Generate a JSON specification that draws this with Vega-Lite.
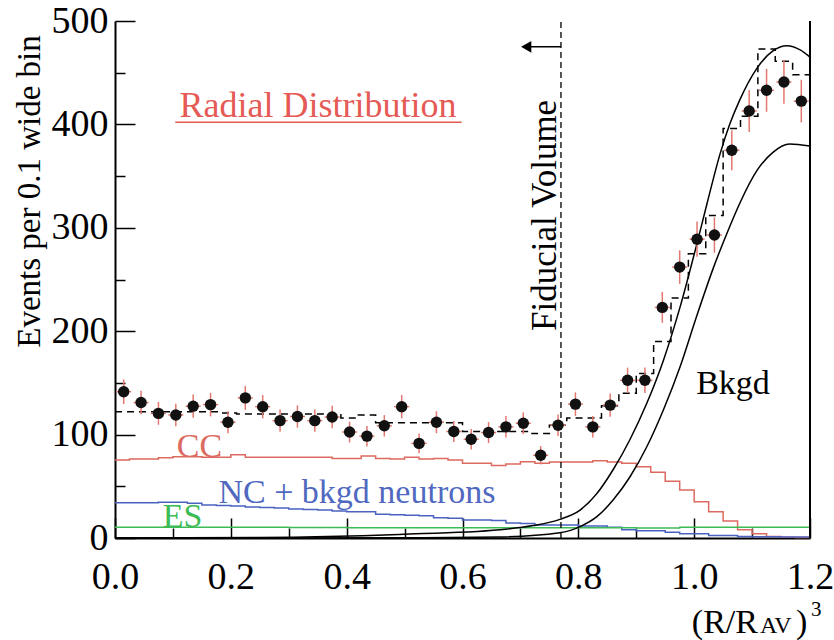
{
  "$schema": "https://vega.github.io/schema/vega-lite/v6.json",
  "autosize": "none",
  "width": 695,
  "height": 517,
  "padding": {"left": 115, "top": 21, "right": 24, "bottom": 102},
  "background": "white",
  "config": {
    "view": {"stroke": null},
    "font": "Liberation Serif",
    "text": {"font": "Liberation Serif"},
    "axis": {"labelFont": "Liberation Serif", "titleFont": "Liberation Serif", "labelColor": "black", "titleColor": "black", "grid": false, "domainColor": "black", "domainWidth": 2, "tickColor": "black", "tickWidth": 1.5, "titleFontWeight": "normal"}
  },
  "datasets": {
    "points": [
      {"x": 0.015, "n": 141.5, "lo": 129.6, "hi": 153.4, "xlo": 0.002, "xhi": 0.028},
      {"x": 0.045, "n": 131, "lo": 119.6, "hi": 142.4, "xlo": 0.032, "xhi": 0.058},
      {"x": 0.075, "n": 120.5, "lo": 109.5, "hi": 131.5, "xlo": 0.062, "xhi": 0.088},
      {"x": 0.105, "n": 119, "lo": 108.1, "hi": 129.9, "xlo": 0.092, "xhi": 0.118},
      {"x": 0.135, "n": 127.5, "lo": 116.2, "hi": 138.8, "xlo": 0.122, "xhi": 0.148},
      {"x": 0.165, "n": 129, "lo": 117.6, "hi": 140.4, "xlo": 0.152, "xhi": 0.178},
      {"x": 0.195, "n": 112, "lo": 101.4, "hi": 122.6, "xlo": 0.182, "xhi": 0.208},
      {"x": 0.225, "n": 135.5, "lo": 123.9, "hi": 147.1, "xlo": 0.212, "xhi": 0.238},
      {"x": 0.255, "n": 127, "lo": 115.7, "hi": 138.3, "xlo": 0.242, "xhi": 0.268},
      {"x": 0.285, "n": 113.5, "lo": 102.8, "hi": 124.2, "xlo": 0.272, "xhi": 0.298},
      {"x": 0.315, "n": 117.5, "lo": 106.7, "hi": 128.3, "xlo": 0.302, "xhi": 0.328},
      {"x": 0.345, "n": 113.5, "lo": 102.8, "hi": 124.2, "xlo": 0.332, "xhi": 0.358},
      {"x": 0.375, "n": 117, "lo": 106.2, "hi": 127.8, "xlo": 0.362, "xhi": 0.388},
      {"x": 0.405, "n": 102.5, "lo": 92.4, "hi": 112.6, "xlo": 0.392, "xhi": 0.418},
      {"x": 0.435, "n": 98.5, "lo": 88.6, "hi": 108.4, "xlo": 0.422, "xhi": 0.448},
      {"x": 0.465, "n": 108.5, "lo": 98.1, "hi": 118.9, "xlo": 0.452, "xhi": 0.478},
      {"x": 0.495, "n": 127, "lo": 115.7, "hi": 138.3, "xlo": 0.482, "xhi": 0.508},
      {"x": 0.525, "n": 91.5, "lo": 81.9, "hi": 101.1, "xlo": 0.512, "xhi": 0.538},
      {"x": 0.555, "n": 112, "lo": 101.4, "hi": 122.6, "xlo": 0.542, "xhi": 0.568},
      {"x": 0.585, "n": 103, "lo": 92.9, "hi": 113.1, "xlo": 0.572, "xhi": 0.598},
      {"x": 0.615, "n": 95.5, "lo": 85.7, "hi": 105.3, "xlo": 0.602, "xhi": 0.628},
      {"x": 0.645, "n": 102, "lo": 91.9, "hi": 112.1, "xlo": 0.632, "xhi": 0.658},
      {"x": 0.675, "n": 107.5, "lo": 97.1, "hi": 117.9, "xlo": 0.662, "xhi": 0.688},
      {"x": 0.705, "n": 111, "lo": 100.5, "hi": 121.5, "xlo": 0.692, "xhi": 0.718},
      {"x": 0.735, "n": 80, "lo": 71.1, "hi": 88.9, "xlo": 0.722, "xhi": 0.748},
      {"x": 0.765, "n": 109, "lo": 98.6, "hi": 119.4, "xlo": 0.752, "xhi": 0.778},
      {"x": 0.795, "n": 129.5, "lo": 118.1, "hi": 140.9, "xlo": 0.782, "xhi": 0.808},
      {"x": 0.825, "n": 107.5, "lo": 97.1, "hi": 117.9, "xlo": 0.812, "xhi": 0.838},
      {"x": 0.855, "n": 128.5, "lo": 117.2, "hi": 139.8, "xlo": 0.842, "xhi": 0.868},
      {"x": 0.885, "n": 152.5, "lo": 140.2, "hi": 164.8, "xlo": 0.872, "xhi": 0.898},
      {"x": 0.915, "n": 152.5, "lo": 140.2, "hi": 164.8, "xlo": 0.902, "xhi": 0.928},
      {"x": 0.945, "n": 223, "lo": 208.1, "hi": 237.9, "xlo": 0.932, "xhi": 0.958},
      {"x": 0.975, "n": 262, "lo": 245.8, "hi": 278.2, "xlo": 0.962, "xhi": 0.988},
      {"x": 1.005, "n": 289, "lo": 272, "hi": 306, "xlo": 0.992, "xhi": 1.018},
      {"x": 1.035, "n": 293, "lo": 275.9, "hi": 310.1, "xlo": 1.022, "xhi": 1.048},
      {"x": 1.065, "n": 375, "lo": 355.6, "hi": 394.4, "xlo": 1.052, "xhi": 1.078},
      {"x": 1.095, "n": 413, "lo": 392.7, "hi": 433.3, "xlo": 1.082, "xhi": 1.108},
      {"x": 1.125, "n": 433, "lo": 412.2, "hi": 453.8, "xlo": 1.112, "xhi": 1.138},
      {"x": 1.155, "n": 441, "lo": 420, "hi": 462, "xlo": 1.142, "xhi": 1.168},
      {"x": 1.185, "n": 422.5, "lo": 401.9, "hi": 443.1, "xlo": 1.172, "xhi": 1.198}
    ],
    "total": [
      {"x": 0.0, "v": 122}, {"x": 0.03, "v": 122}, {"x": 0.06, "v": 122}, {"x": 0.09, "v": 122},
      {"x": 0.12, "v": 122}, {"x": 0.15, "v": 122}, {"x": 0.18, "v": 121}, {"x": 0.21, "v": 120},
      {"x": 0.24, "v": 120}, {"x": 0.27, "v": 120}, {"x": 0.30, "v": 120}, {"x": 0.33, "v": 120},
      {"x": 0.36, "v": 120}, {"x": 0.39, "v": 116}, {"x": 0.42, "v": 119}, {"x": 0.45, "v": 111.5},
      {"x": 0.48, "v": 111.5}, {"x": 0.51, "v": 111.5}, {"x": 0.54, "v": 111.5}, {"x": 0.57, "v": 111.5},
      {"x": 0.60, "v": 103}, {"x": 0.63, "v": 103}, {"x": 0.66, "v": 103}, {"x": 0.69, "v": 103},
      {"x": 0.72, "v": 101}, {"x": 0.75, "v": 109}, {"x": 0.78, "v": 116}, {"x": 0.81, "v": 116},
      {"x": 0.84, "v": 128}, {"x": 0.87, "v": 140}, {"x": 0.90, "v": 159}, {"x": 0.93, "v": 190},
      {"x": 0.96, "v": 232}, {"x": 0.99, "v": 275}, {"x": 1.02, "v": 312}, {"x": 1.05, "v": 396},
      {"x": 1.08, "v": 408}, {"x": 1.11, "v": 473}, {"x": 1.14, "v": 461}, {"x": 1.17, "v": 448},
      {"x": 1.20, "v": 448}
    ],
    "cc": [
      {"x": 0.000, "v": 75.5}, {"x": 0.025, "v": 76.5}, {"x": 0.050, "v": 76.5}, {"x": 0.075, "v": 77.5},
      {"x": 0.100, "v": 78.5}, {"x": 0.125, "v": 78.5}, {"x": 0.150, "v": 78}, {"x": 0.175, "v": 78},
      {"x": 0.200, "v": 80.5}, {"x": 0.225, "v": 78}, {"x": 0.250, "v": 78}, {"x": 0.275, "v": 78},
      {"x": 0.300, "v": 78}, {"x": 0.325, "v": 78}, {"x": 0.350, "v": 78}, {"x": 0.375, "v": 77},
      {"x": 0.400, "v": 77}, {"x": 0.425, "v": 79.3}, {"x": 0.450, "v": 77}, {"x": 0.475, "v": 76.5},
      {"x": 0.500, "v": 78}, {"x": 0.525, "v": 76.3}, {"x": 0.550, "v": 77}, {"x": 0.575, "v": 75.5},
      {"x": 0.600, "v": 72.3}, {"x": 0.625, "v": 72.3}, {"x": 0.650, "v": 70}, {"x": 0.675, "v": 71.5},
      {"x": 0.700, "v": 73.7}, {"x": 0.725, "v": 72.3}, {"x": 0.750, "v": 73.4}, {"x": 0.775, "v": 73.5},
      {"x": 0.800, "v": 73.5}, {"x": 0.825, "v": 74.8}, {"x": 0.850, "v": 73.5}, {"x": 0.875, "v": 72.3},
      {"x": 0.900, "v": 69}, {"x": 0.925, "v": 63.5}, {"x": 0.950, "v": 55}, {"x": 0.975, "v": 46.5},
      {"x": 1.000, "v": 35}, {"x": 1.025, "v": 25.5}, {"x": 1.050, "v": 16.5}, {"x": 1.075, "v": 8},
      {"x": 1.100, "v": 4}, {"x": 1.125, "v": 1.5}, {"x": 1.150, "v": 0.7}, {"x": 1.175, "v": 0.5},
      {"x": 1.200, "v": 0.5}
    ],
    "nc": [
      {"x": 0.000, "v": 34}, {"x": 0.025, "v": 34}, {"x": 0.050, "v": 34}, {"x": 0.075, "v": 34.5},
      {"x": 0.100, "v": 34.5}, {"x": 0.125, "v": 33.5}, {"x": 0.150, "v": 32}, {"x": 0.175, "v": 31.5},
      {"x": 0.200, "v": 31}, {"x": 0.225, "v": 30}, {"x": 0.250, "v": 29.5}, {"x": 0.275, "v": 29},
      {"x": 0.300, "v": 28}, {"x": 0.325, "v": 27.5}, {"x": 0.350, "v": 27}, {"x": 0.375, "v": 26},
      {"x": 0.400, "v": 25.5}, {"x": 0.425, "v": 25.5}, {"x": 0.450, "v": 23}, {"x": 0.475, "v": 22.5},
      {"x": 0.500, "v": 22}, {"x": 0.525, "v": 21.5}, {"x": 0.550, "v": 19.5}, {"x": 0.575, "v": 19},
      {"x": 0.600, "v": 17.5}, {"x": 0.625, "v": 17.5}, {"x": 0.650, "v": 17}, {"x": 0.675, "v": 14.5},
      {"x": 0.700, "v": 14}, {"x": 0.725, "v": 12.5}, {"x": 0.750, "v": 12.5}, {"x": 0.775, "v": 12.5},
      {"x": 0.800, "v": 11.5}, {"x": 0.825, "v": 11.5}, {"x": 0.850, "v": 10.5}, {"x": 0.875, "v": 8},
      {"x": 0.900, "v": 7}, {"x": 0.925, "v": 7}, {"x": 0.950, "v": 5.5}, {"x": 0.975, "v": 4},
      {"x": 1.000, "v": 4}, {"x": 1.025, "v": 2.5}, {"x": 1.050, "v": 2.5}, {"x": 1.075, "v": 1.5},
      {"x": 1.100, "v": 1.3}, {"x": 1.125, "v": 1.2}, {"x": 1.150, "v": 1}, {"x": 1.175, "v": 1},
      {"x": 1.200, "v": 1}
    ],
    "es": [
      {"x": 0.000, "v": 10.3}, {"x": 0.025, "v": 10.3}, {"x": 0.050, "v": 10.3}, {"x": 0.075, "v": 10.3},
      {"x": 0.100, "v": 10.5}, {"x": 0.125, "v": 10.5}, {"x": 0.150, "v": 10.3}, {"x": 0.175, "v": 10.3},
      {"x": 0.200, "v": 10.3}, {"x": 0.225, "v": 10.5}, {"x": 0.250, "v": 10.3}, {"x": 0.275, "v": 10.3},
      {"x": 0.300, "v": 10.2}, {"x": 0.325, "v": 10.2}, {"x": 0.350, "v": 10.2}, {"x": 0.375, "v": 10.2},
      {"x": 0.400, "v": 10}, {"x": 0.425, "v": 10}, {"x": 0.450, "v": 10}, {"x": 0.475, "v": 10},
      {"x": 0.500, "v": 10}, {"x": 0.525, "v": 9.8}, {"x": 0.550, "v": 9.8}, {"x": 0.575, "v": 9.8},
      {"x": 0.600, "v": 9.8}, {"x": 0.625, "v": 9.8}, {"x": 0.650, "v": 9.8}, {"x": 0.675, "v": 9.8},
      {"x": 0.700, "v": 9.8}, {"x": 0.725, "v": 10}, {"x": 0.750, "v": 10}, {"x": 0.775, "v": 10},
      {"x": 0.800, "v": 10}, {"x": 0.825, "v": 10}, {"x": 0.850, "v": 10}, {"x": 0.875, "v": 9.8},
      {"x": 0.900, "v": 9.6}, {"x": 0.925, "v": 9.6}, {"x": 0.950, "v": 9.6}, {"x": 0.975, "v": 10.4},
      {"x": 1.000, "v": 10.4}, {"x": 1.025, "v": 10.4}, {"x": 1.050, "v": 10.4}, {"x": 1.075, "v": 10.4},
      {"x": 1.100, "v": 10.4}, {"x": 1.125, "v": 10.4}, {"x": 1.150, "v": 10.4}, {"x": 1.175, "v": 10.4},
      {"x": 1.200, "v": 10.4}
    ],
    "bkg": [
      {"c": "upper", "x": 0.0, "v": 0}, {"c": "upper", "x": 0.25, "v": 0.5}, {"c": "upper", "x": 0.49, "v": 3.5},
      {"c": "upper", "x": 0.665, "v": 8}, {"c": "upper", "x": 0.722, "v": 12}, {"c": "upper", "x": 0.768, "v": 18},
      {"c": "upper", "x": 0.803, "v": 27}, {"c": "upper", "x": 0.832, "v": 43}, {"c": "upper", "x": 0.86, "v": 66},
      {"c": "upper", "x": 0.889, "v": 95}, {"c": "upper", "x": 0.918, "v": 130}, {"c": "upper", "x": 0.947, "v": 172},
      {"c": "upper", "x": 0.976, "v": 224}, {"c": "upper", "x": 1.004, "v": 283}, {"c": "upper", "x": 1.022, "v": 323},
      {"c": "upper", "x": 1.045, "v": 372}, {"c": "upper", "x": 1.062, "v": 401}, {"c": "upper", "x": 1.079, "v": 424},
      {"c": "upper", "x": 1.108, "v": 454}, {"c": "upper", "x": 1.136, "v": 471}, {"c": "upper", "x": 1.16, "v": 476},
      {"c": "upper", "x": 1.183, "v": 472}, {"c": "upper", "x": 1.2, "v": 465},
      {"c": "lower", "x": 0.0, "v": 0}, {"c": "lower", "x": 0.5, "v": 0.2}, {"c": "lower", "x": 0.665, "v": 1},
      {"c": "lower", "x": 0.768, "v": 5}, {"c": "lower", "x": 0.803, "v": 11}, {"c": "lower", "x": 0.832, "v": 20.6},
      {"c": "lower", "x": 0.86, "v": 36.7}, {"c": "lower", "x": 0.889, "v": 59}, {"c": "lower", "x": 0.918, "v": 88},
      {"c": "lower", "x": 0.947, "v": 124}, {"c": "lower", "x": 0.976, "v": 166}, {"c": "lower", "x": 1.004, "v": 214},
      {"c": "lower", "x": 1.033, "v": 261}, {"c": "lower", "x": 1.062, "v": 302}, {"c": "lower", "x": 1.079, "v": 324},
      {"c": "lower", "x": 1.108, "v": 355}, {"c": "lower", "x": 1.136, "v": 373}, {"c": "lower", "x": 1.165, "v": 381},
      {"c": "lower", "x": 1.2, "v": 379}
    ]
  },
  "layer": [
    {
      "data": {"name": "cc"},
      "mark": {"type": "line", "interpolate": "step-after", "color": "#dd6a60", "strokeWidth": 1.5},
      "encoding": {
        "x": {"field": "x", "type": "quantitative", "scale": {"domain": [0, 1.2], "nice": false, "zero": false},
          "axis": {
            "values": [0, 0.05, 0.1, 0.15, 0.2, 0.25, 0.3, 0.35, 0.4, 0.45, 0.5, 0.55, 0.6, 0.65, 0.7, 0.75, 0.8, 0.85, 0.9, 0.95, 1.0, 1.05, 1.1, 1.15, 1.2],
            "labelExpr": "round(datum.value*100) % 20 == 0 ? format(datum.value, '.1f') : ''",
            "tickSize": {"condition": {"test": "round(datum.value*100) % 20 == 0", "value": -20}, "value": -10},
            "labelFontSize": 38, "labelPadding": 40, "labelFlush": false, "labelOverlap": false, "title": null
          }},
        "y": {"field": "v", "type": "quantitative", "scale": {"domain": [0, 500], "nice": false},
          "axis": {
            "values": [0, 50, 100, 150, 200, 250, 300, 350, 400, 450, 500],
            "labelExpr": "datum.value % 100 == 0 ? format(datum.value, 'd') : ''",
            "tickSize": {"condition": {"test": "datum.value % 100 == 0", "value": -20}, "value": -10},
            "labelFontSize": 38, "labelPadding": 27, "labelFlush": false, "labelOverlap": false,
            "title": "Events per 0.1 wide bin", "titleFontSize": 33, "titleAngle": -90,
            "titleX": -86, "titleY": 170, "titleAlign": "center", "titleBaseline": "middle"
          }}
      }
    },
    {
      "data": {"name": "nc"},
      "mark": {"type": "line", "interpolate": "step-after", "color": "#4a62c0", "strokeWidth": 1.5},
      "encoding": {"x": {"field": "x", "type": "quantitative"}, "y": {"field": "v", "type": "quantitative"}}
    },
    {
      "data": {"name": "es"},
      "mark": {"type": "line", "interpolate": "step-after", "color": "#3dbb55", "strokeWidth": 1.5},
      "encoding": {"x": {"field": "x", "type": "quantitative"}, "y": {"field": "v", "type": "quantitative"}}
    },
    {
      "data": {"name": "bkg"},
      "mark": {"type": "line", "interpolate": "monotone", "color": "black", "strokeWidth": 1.5},
      "encoding": {"x": {"field": "x", "type": "quantitative"}, "y": {"field": "v", "type": "quantitative"}, "detail": {"field": "c"}}
    },
    {
      "data": {"name": "total"},
      "mark": {"type": "line", "interpolate": "step-after", "color": "black", "strokeWidth": 1.5, "strokeDash": [7, 5]},
      "encoding": {"x": {"field": "x", "type": "quantitative"}, "y": {"field": "v", "type": "quantitative"}}
    },
    {
      "data": {"values": [{"x": 0.77, "y": 0, "y2": 500}]},
      "mark": {"type": "rule", "color": "black", "strokeWidth": 1.3, "strokeDash": [6, 4]},
      "encoding": {"x": {"field": "x", "type": "quantitative"}, "y": {"field": "y", "type": "quantitative"}, "y2": {"field": "y2"}}
    },
    {
      "data": {"values": [{"x": 1.2, "y": 0, "y2": 500}]},
      "mark": {"type": "rule", "color": "black", "strokeWidth": 2},
      "encoding": {"x": {"field": "x", "type": "quantitative"}, "y": {"field": "y", "type": "quantitative"}, "y2": {"field": "y2"}}
    },
    {
      "data": {"values": [{"x": 0.708, "x2": 0.77, "y": 475}]},
      "mark": {"type": "rule", "color": "black", "strokeWidth": 1.5},
      "encoding": {"x": {"field": "x", "type": "quantitative"}, "x2": {"field": "x2"}, "y": {"field": "y", "type": "quantitative"}}
    },
    {
      "data": {"values": [{"x": 0.71, "y": 475}]},
      "mark": {"type": "point", "shape": "triangle-left", "filled": true, "color": "black", "size": 140, "opacity": 1},
      "encoding": {"x": {"field": "x", "type": "quantitative"}, "y": {"field": "y", "type": "quantitative"}}
    },
    {
      "data": {"name": "points"},
      "mark": {"type": "rule", "color": "#e2786f", "strokeWidth": 1.5},
      "encoding": {"x": {"field": "x", "type": "quantitative"}, "y": {"field": "lo", "type": "quantitative"}, "y2": {"field": "hi"}}
    },
    {
      "data": {"name": "points"},
      "mark": {"type": "rule", "color": "#e2786f", "strokeWidth": 1.5},
      "encoding": {"x": {"field": "xlo", "type": "quantitative"}, "x2": {"field": "xhi"}, "y": {"field": "n", "type": "quantitative"}}
    },
    {
      "data": {"name": "points"},
      "mark": {"type": "point", "shape": "circle", "filled": true, "color": "#111111", "size": 130, "opacity": 1},
      "encoding": {"x": {"field": "x", "type": "quantitative"}, "y": {"field": "n", "type": "quantitative"}}
    },
    {
      "data": {"values": [{"x": 0.104, "x2": 0.5985, "y": 402}]},
      "mark": {"type": "rule", "color": "#e55a55", "strokeWidth": 1.5},
      "encoding": {"x": {"field": "x", "type": "quantitative"}, "x2": {"field": "x2"}, "y": {"field": "y", "type": "quantitative"}}
    },
    {
      "data": {"values": [{"x": 0.3505, "y": 407, "t": "Radial Distribution"}]},
      "mark": {"type": "text", "color": "#e55a55", "fontSize": 36, "align": "center", "baseline": "alphabetic"},
      "encoding": {"x": {"field": "x", "type": "quantitative"}, "y": {"field": "y", "type": "quantitative"}, "text": {"field": "t"}}
    },
    {
      "data": {"values": [{"x": 0.761, "y": 312, "t": "Fiducial Volume"}]},
      "mark": {"type": "text", "color": "black", "fontSize": 35, "align": "center", "baseline": "alphabetic", "angle": 270},
      "encoding": {"x": {"field": "x", "type": "quantitative"}, "y": {"field": "y", "type": "quantitative"}, "text": {"field": "t"}}
    },
    {
      "data": {"values": [{"x": 1.067, "y": 139.5, "t": "Bkgd"}]},
      "mark": {"type": "text", "color": "black", "fontSize": 34, "align": "center", "baseline": "alphabetic"},
      "encoding": {"x": {"field": "x", "type": "quantitative"}, "y": {"field": "y", "type": "quantitative"}, "text": {"field": "t"}}
    },
    {
      "data": {"values": [{"x": 0.1459, "y": 78.5, "t": "CC"}]},
      "mark": {"type": "text", "color": "#dd6a60", "fontSize": 34, "align": "center", "baseline": "alphabetic"},
      "encoding": {"x": {"field": "x", "type": "quantitative"}, "y": {"field": "y", "type": "quantitative"}, "text": {"field": "t"}}
    },
    {
      "data": {"values": [{"x": 0.1786, "y": 34, "t": "NC + bkgd neutrons"}]},
      "mark": {"type": "text", "color": "#5068c0", "fontSize": 34, "align": "left", "baseline": "alphabetic"},
      "encoding": {"x": {"field": "x", "type": "quantitative"}, "y": {"field": "y", "type": "quantitative"}, "text": {"field": "t"}}
    },
    {
      "data": {"values": [{"x": 0.1166, "y": 10.6, "t": "ES"}]},
      "mark": {"type": "text", "color": "#3dbb55", "fontSize": 34, "align": "center", "baseline": "alphabetic"},
      "encoding": {"x": {"field": "x", "type": "quantitative"}, "y": {"field": "y", "type": "quantitative"}, "text": {"field": "t"}}
    },
    {
      "data": {"values": [{"x": 0.996, "y": -92, "t": "(R/R"}, {"x": 1.1757, "y": -92, "t": ")"}]},
      "mark": {"type": "text", "color": "black", "fontSize": 34, "align": "left", "baseline": "alphabetic"},
      "encoding": {"x": {"field": "x", "type": "quantitative"}, "y": {"field": "y", "type": "quantitative"}, "text": {"field": "t"}}
    },
    {
      "data": {"values": [{"x": 1.1136, "y": -92, "t": "AV"}]},
      "mark": {"type": "text", "color": "black", "fontSize": 24, "align": "left", "baseline": "alphabetic"},
      "encoding": {"x": {"field": "x", "type": "quantitative"}, "y": {"field": "y", "type": "quantitative"}, "text": {"field": "t"}}
    },
    {
      "data": {"values": [{"x": 1.2017, "y": -75, "t": "3"}]},
      "mark": {"type": "text", "color": "black", "fontSize": 21, "align": "left", "baseline": "alphabetic"},
      "encoding": {"x": {"field": "x", "type": "quantitative"}, "y": {"field": "y", "type": "quantitative"}, "text": {"field": "t"}}
    }
  ]
}
